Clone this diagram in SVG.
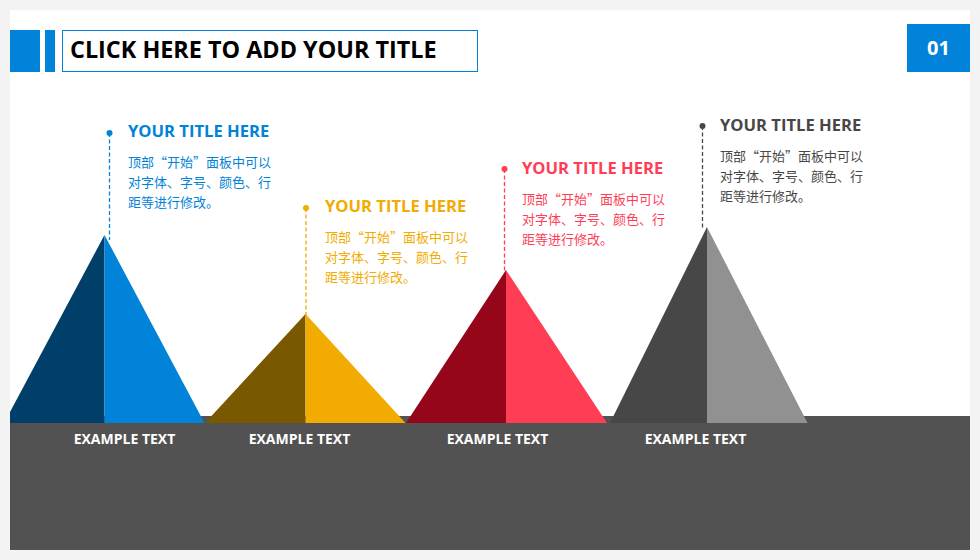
<svg xmlns="http://www.w3.org/2000/svg" width="980" height="560" viewBox="0 0 980 560">
<style>
.ttl{font-family:"Open Sans","Liberation Sans",sans-serif;font-weight:bold;font-size:16.6px}
.body{font-family:"Noto Sans CJK SC","Noto Sans",sans-serif;font-size:13px}
.ex{font-family:"Open Sans","Liberation Sans",sans-serif;font-weight:bold;font-size:14px;fill:#ffffff}
.dash{stroke-width:1.3;stroke-dasharray:4 2.5;fill:none}
</style>
<rect x="0" y="0" width="980" height="560" fill="#f3f3f3"/>
<rect x="10" y="10" width="960" height="540" fill="#ffffff"/>
<rect x="10" y="416" width="960" height="134" fill="#525252"/>

<g id="header">
<rect x="10" y="30" width="30" height="42" fill="#0083d8"/>
<rect x="45" y="30" width="10" height="42" fill="#0083d8"/>
<rect x="62.5" y="30.5" width="415" height="41" fill="#ffffff" stroke="#0083d8" stroke-width="1"/>
<text x="70" y="58" font-family="'Open Sans','Liberation Sans',sans-serif" font-weight="bold" font-size="23.4" fill="#000000">CLICK HERE TO ADD YOUR TITLE</text>
</g>
<g id="page-number">
<rect x="907" y="24" width="63" height="48" fill="#0083d8"/>
<text x="938.5" y="55" text-anchor="middle" font-family="'Open Sans','Liberation Sans',sans-serif" font-weight="bold" font-size="20" fill="#ffffff">01</text>
</g>

<g id="connectors">
<line class="dash" x1="109.5" y1="133" x2="109.5" y2="240" stroke="#0083d8"/>
<line class="dash" x1="306" y1="208" x2="306" y2="316" stroke="#f2ab00"/>
<line class="dash" x1="504.5" y1="169" x2="504.5" y2="272" stroke="#ff3e56"/>
<line class="dash" x1="702.5" y1="126" x2="702.5" y2="229" stroke="#474747"/>
<circle cx="109.5" cy="133" r="3" fill="#0083d8"/>
<circle cx="306" cy="208" r="3" fill="#f2ab00"/>
<circle cx="504.5" cy="169" r="3" fill="#ff3e56"/>
<circle cx="702.5" cy="126" r="3" fill="#474747"/>
</g>

<g id="peak1">
<polygon points="104.5,235 10,412 10,423 104.5,423" fill="#003f6a"/>
<polygon points="104.5,235 204.5,423 104.5,423" fill="#0083d8"/>
<text class="ttl" x="128" y="136.5" fill="#0083d8">YOUR TITLE HERE</text>
<text class="body" fill="#0083d8"><tspan x="128" y="167">顶部“开始”面板中可以</tspan><tspan x="128" y="187">对字体、字号、颜色、行</tspan><tspan x="128" y="207">距等进行修改。</tspan></text>
<text class="ex" x="124.5" y="443.5" text-anchor="middle">EXAMPLE TEXT</text>
</g>

<g id="peak2">
<polygon points="305.5,314 205,423 305.5,423" fill="#7a5800"/>
<polygon points="305.5,314 405.5,423 305.5,423" fill="#f2ab00"/>
<text class="ttl" x="325" y="212" fill="#f2ab00">YOUR TITLE HERE</text>
<text class="body" fill="#f2ab00"><tspan x="325" y="242">顶部“开始”面板中可以</tspan><tspan x="325" y="262">对字体、字号、颜色、行</tspan><tspan x="325" y="282">距等进行修改。</tspan></text>
<text class="ex" x="299.5" y="443.5" text-anchor="middle">EXAMPLE TEXT</text>
</g>

<g id="peak3">
<polygon points="506,270 406,423 506,423" fill="#95061a"/>
<polygon points="506,270 607,423 506,423" fill="#ff3e56"/>
<text class="ttl" x="522" y="174" fill="#ff3e56">YOUR TITLE HERE</text>
<text class="body" fill="#ff3e56"><tspan x="522" y="204">顶部“开始”面板中可以</tspan><tspan x="522" y="224">对字体、字号、颜色、行</tspan><tspan x="522" y="244">距等进行修改。</tspan></text>
<text class="ex" x="497.5" y="443.5" text-anchor="middle">EXAMPLE TEXT</text>
</g>

<g id="peak4">
<polygon points="707,227 610,423 707,423" fill="#474747"/>
<polygon points="707,227 807.5,423 707,423" fill="#919191"/>
<text class="ttl" x="720" y="130.5" fill="#474747">YOUR TITLE HERE</text>
<text class="body" fill="#474747"><tspan x="720" y="160.5">顶部“开始”面板中可以</tspan><tspan x="720" y="180.5">对字体、字号、颜色、行</tspan><tspan x="720" y="200.5">距等进行修改。</tspan></text>
<text class="ex" x="695.5" y="443.5" text-anchor="middle">EXAMPLE TEXT</text>
</g>
</svg>
